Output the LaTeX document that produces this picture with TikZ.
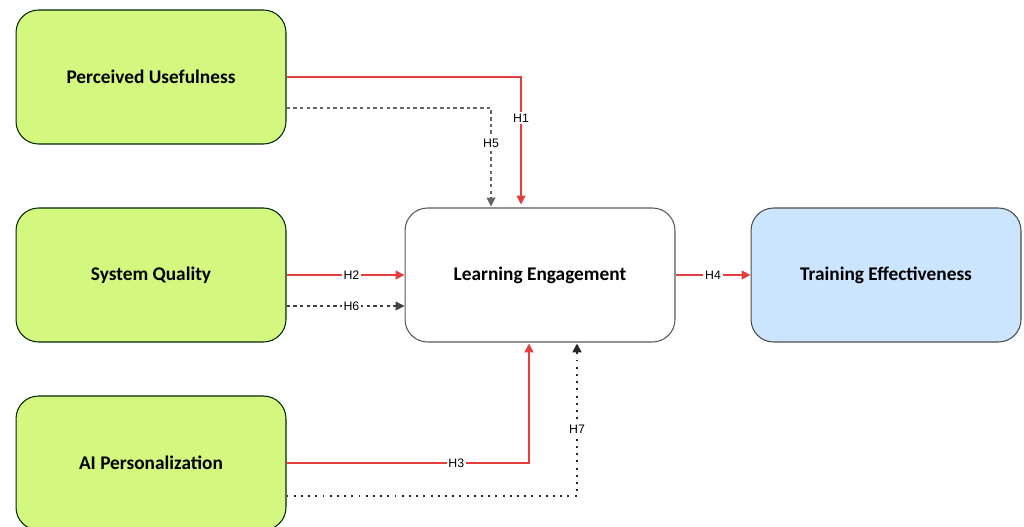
\documentclass[tikz,border=0pt]{standalone}
\usepackage{fontspec}
\setmainfont{Carlito}
\newfontfamily\hypfont{Liberation Sans}
\usetikzlibrary{arrows.meta,positioning}

\definecolor{boxgreen}{RGB}{212,247,127}
\definecolor{boxblue}{RGB}{204,229,255}
\definecolor{hypred}{RGB}{228,62,62}

\begin{document}
\begin{tikzpicture}[
x=0.02cm, y=-0.02cm,
font=\bfseries\fontsize{11}{13}\selectfont,
construct/.style={draw=black!70, line width=0.6pt, rounded corners=0.45cm,
  minimum width=5.4cm, minimum height=2.68cm, align=center},
direct/.style={hypred, line width=0.8pt, -{Triangle[width=5pt,length=5pt]}},
moderate/.style={black!75, line width=0.6pt, dash pattern=on 2pt off 1.8pt,
  -{Triangle[width=5pt,length=5pt]}},
dotpath/.style={black!85, line width=1.1pt, dash pattern=on 1.1pt off 3pt,
  -{Triangle[width=5pt,length=5pt]}},
hyp/.style={fill=white, inner sep=1pt, text=black, font=\hypfont\fontsize{7}{8}\selectfont}
]
    \useasboundingbox (0,0) rectangle (1024,527);

    % Constructs
    \node[construct, fill=boxgreen, draw=black!60!green!40!black] (pu) at (151,77) {Perceived Usefulness};
    \node[construct, fill=boxgreen, draw=black!60!green!40!black] (sq) at (151,275) {System Quality};
    \node[construct, fill=boxgreen, draw=black!60!green!40!black] (ai) at (151,463) {AI Personalization};
    \node[construct, fill=white, draw=black!65] (le) at (540,275) {Learning Engagement};
    \node[construct, fill=boxblue] (te) at (886,275) {Training Effectiveness};

    % Direct paths
    \draw[direct] (pu.east) -| ([xshift=-0.38cm,yshift=0.06cm]le.north)
        node[hyp, pos=0.66] {H1};
    \draw[direct] (sq.east) -- (le.west) node[hyp, pos=0.55] {H2};
    \draw[direct] (ai.east) -| ([xshift=-0.22cm,yshift=-0.02cm]le.south)
        node[hyp, pos=0.35] {H3};
    \draw[direct] (le.east) -- (te.west) node[hyp, pos=0.5] {H4};

    % Indirect paths
    \draw[moderate, black!60] ([yshift=-0.62cm]pu.east) -| ([xshift=-0.98cm,yshift=0.02cm]le.north)
        node[hyp, pos=0.68] {H5};
    \draw[moderate] ([yshift=-0.62cm]sq.east) -- ([yshift=-0.62cm]le.west)
        node[hyp, pos=0.55] {H6};
    \draw[dotpath] ([yshift=-0.66cm]ai.east) -| ([xshift=0.74cm,yshift=-0.02cm]le.south)
        node[hyp, pos=0.72] {H7};
\end{tikzpicture}
\end{document}
